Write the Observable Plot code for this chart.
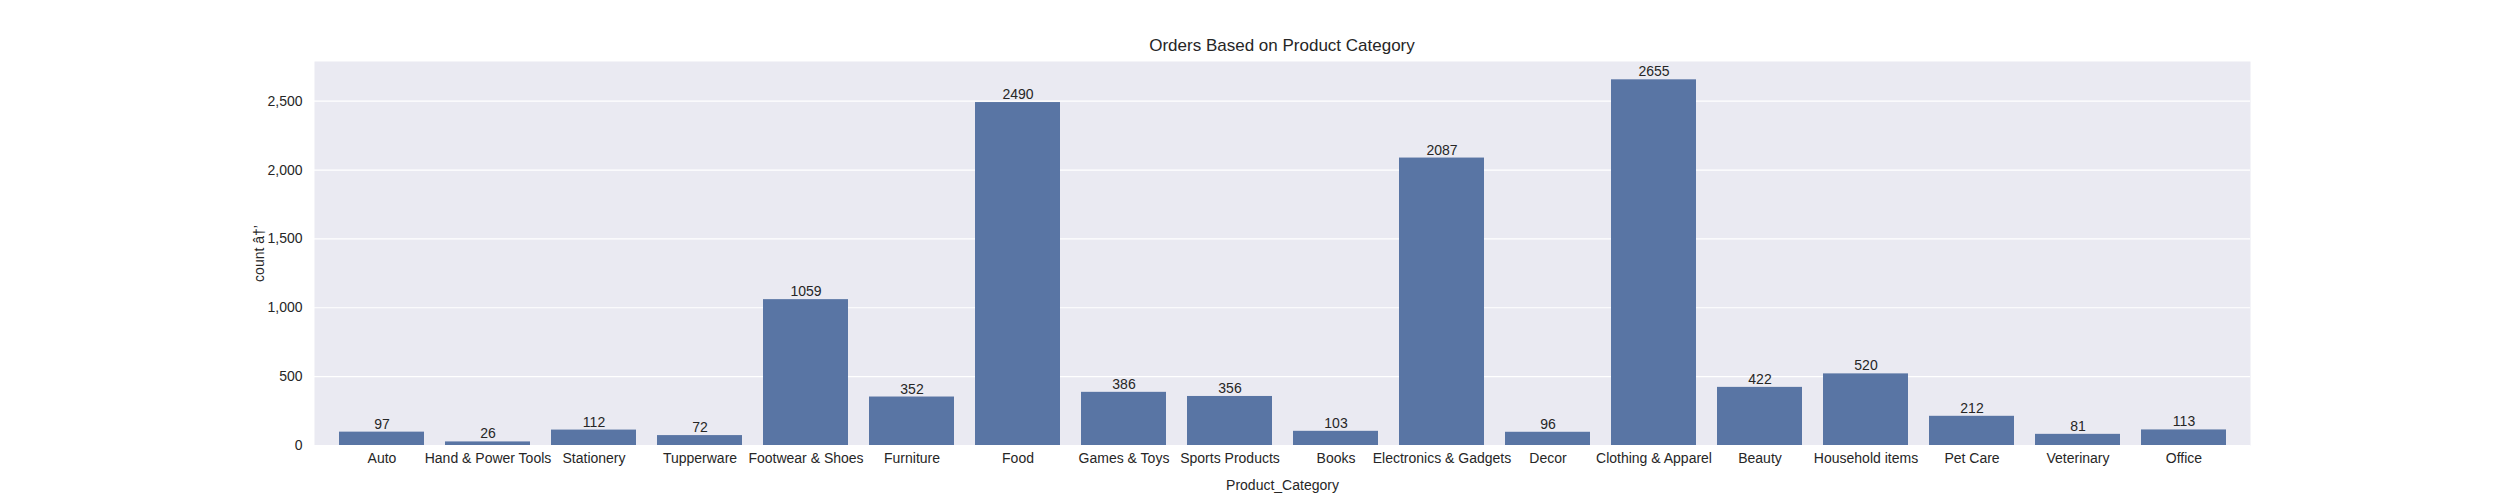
<!DOCTYPE html>
<html><head>
<script src="https://cdn.jsdelivr.net/npm/d3@7"></script>
<script src="https://cdn.jsdelivr.net/npm/@observablehq/plot@0.6"></script>
<style>body{margin:0;background:#fff;font-family:Arial,"Liberation Sans",sans-serif}</style>
</head><body>
<div id="chart"></div>
<script>
const categories = ["Auto","Hand & Power Tools","Stationery","Tupperware","Footwear & Shoes","Furniture","Food","Games & Toys","Sports Products","Books","Electronics & Gadgets","Decor","Clothing & Apparel","Beauty","Household items","Pet Care","Veterinary","Office"]
const counts = [97,26,112,72,1059,352,2490,386,356,103,2087,96,2655,422,520,212,81,113]
const yTicks = [0,500,1000,1500,2000,2500]

const data = categories.map((c, i) => ({cat: c, n: counts[i]}))

const chart = Plot.plot({
  width: 2500, height: 500,
  marginTop: 61, marginBottom: 55, marginLeft: 314, marginRight: 250,
  style: {fontSize: "14px", fontFamily: "Arial, 'Liberation Sans', sans-serif", color: "#262626"},
  x: {domain: categories, padding: 0.2, label: "Product_Category", labelAnchor: "center", labelOffset: 44, tickSize: 0, tickPadding: 8},
  y: {domain: [0, 2788], ticks: yTicks, label: "count", labelAnchor: "center", labelOffset: 60, tickSize: 0, tickPadding: 12},
  marks: [
    Plot.frame({fill: "#eaeaf2", stroke: null}),
    Plot.gridY(yTicks, {stroke: "white", strokeOpacity: 1, strokeWidth: 1.2}),
    Plot.barY(data, {x: "cat", y: "n", fill: "#5975a4"}),
    Plot.text(data, {x: "cat", y: "n", text: d => String(d.n), dy: -8, fill: "#262626", fontSize: 14})
  ]
})
const title = document.createElement("div")
title.textContent = "Orders Based on Product Category"
title.style.cssText = "position:absolute;top:36px;left:314px;width:1936px;text-align:center;font-size:17px;color:#262626"
document.body.appendChild(title)
document.getElementById("chart").append(chart)
</script>
</body></html>
